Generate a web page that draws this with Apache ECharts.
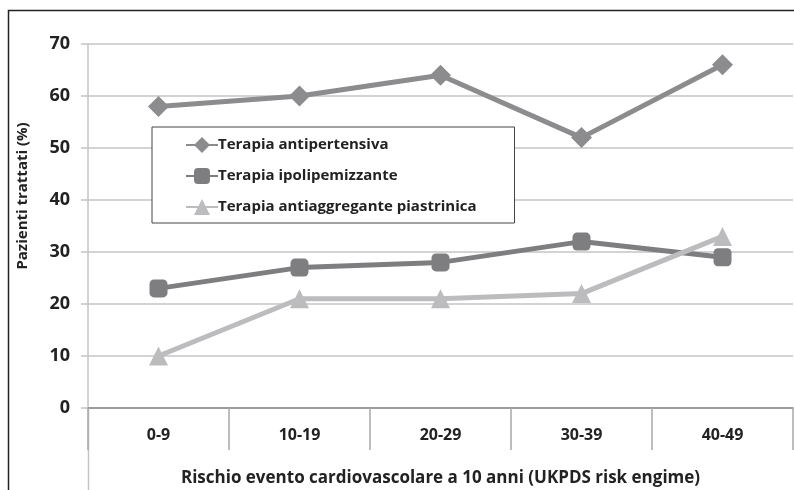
<!DOCTYPE html>
<html>
<head>
<meta charset="utf-8">
<script src="https://cdn.jsdelivr.net/npm/echarts@6/dist/echarts.min.js"></script>
<style>
  html, body { margin: 0; padding: 0; background: #fff; }
  #chart { width: 794px; height: 490px; }
</style>
</head>
<body>
<div id="chart"></div>
<script>
const categories = ["0-9", "10-19", "20-29", "30-39", "40-49"];
const antipertensiva = [58, 60, 64, 52, 66];
const ipolipemizzante = [23, 27, 28, 32, 29];
const antiaggregante = [10, 21, 21, 22, 33];
const seriesNames = [
  "Terapia antipertensiva",
  "Terapia ipolipemizzante",
  "Terapia antiaggregante piastrinica"
];

const font = "'Open Sans', 'Liberation Sans', sans-serif";
const chart = echarts.init(document.getElementById("chart"));

function lineSeries(name, data, color, symbol, size) {
  return {
    name: name,
    type: "line",
    data: data,
    symbol: symbol,
    symbolSize: size,
    showAllSymbol: true,
    itemStyle: { color: color },
    lineStyle: { color: color, width: 5 },
    z: 3
  };
}

chart.setOption({
  backgroundColor: "#fff",
  animation: false,
  textStyle: { fontFamily: font },
  grid: { left: 88, right: 1, top: 44, bottom: 82, containLabel: false, outerBoundsMode: "none" },
  graphic: [
    {
      type: "rect",
      shape: { x: 8.5, y: 10.5, width: 800, height: 500 },
      style: { fill: null, stroke: "#222", lineWidth: 1.5 },
      silent: true
    },
    {
      type: "line",
      shape: { x1: 88.5, y1: 408, x2: 88.5, y2: 490 },
      style: { stroke: "#c4c4c4", lineWidth: 1.5 },
      silent: true
    }
  ],
  legend: {
    orient: "vertical",
    left: 152,
    top: 127,
    padding: [10, 38, 8, 33],
    itemGap: 15,
    itemWidth: 32,
    itemHeight: 20,
    borderColor: "#444",
    borderWidth: 1,
    backgroundColor: "#fff",
    textStyle: { fontFamily: font, fontWeight: "bold", fontSize: 15, color: "#222", padding: [0, 0, 0, -5] },
    data: seriesNames
  },
  xAxis: {
    type: "category",
    data: categories,
    boundaryGap: true,
    axisLine: { lineStyle: { color: "#8a8a8a", width: 1.5 } },
    axisTick: { show: true, length: 42, lineStyle: { color: "#a8a8a8", width: 1.5 } },
    axisLabel: { fontFamily: font, fontWeight: "bold", fontSize: 16, color: "#222", margin: 19 },
    name: "Rischio evento cardiovascolare a 10 anni (UKPDS risk engime)",
    nameLocation: "middle",
    nameGap: 62,
    nameTextStyle: { fontFamily: font, fontWeight: "bold", fontSize: 17, color: "#222" }
  },
  yAxis: {
    type: "value",
    min: 0,
    max: 70,
    interval: 10,
    name: "Pazienti trattati (%)",
    nameLocation: "middle",
    nameRotate: 90,
    nameGap: 58,
    nameTextStyle: { fontFamily: font, fontWeight: "bold", fontSize: 15, color: "#222", padding: [0, 0, 0, 60] },
    axisLine: { show: true, lineStyle: { color: "#c4c4c4", width: 1.5 } },
    axisTick: { show: true, length: 7, lineStyle: { color: "#c4c4c4", width: 1.5 } },
    splitLine: { lineStyle: { color: "#c4c4c4", width: 1.5 } },
    axisLabel: { fontFamily: font, fontWeight: "bold", fontSize: 18, color: "#222", margin: 18 }
  },
  series: [
    lineSeries(seriesNames[0], antipertensiva, "#8c8c8e", "diamond", 21),
    lineSeries(seriesNames[1], ipolipemizzante, "#7e7e80", "roundRect", 18),
    lineSeries(seriesNames[2], antiaggregante, "#bcbcbe", "triangle", 19)
  ]
});
</script>
</body>
</html>
